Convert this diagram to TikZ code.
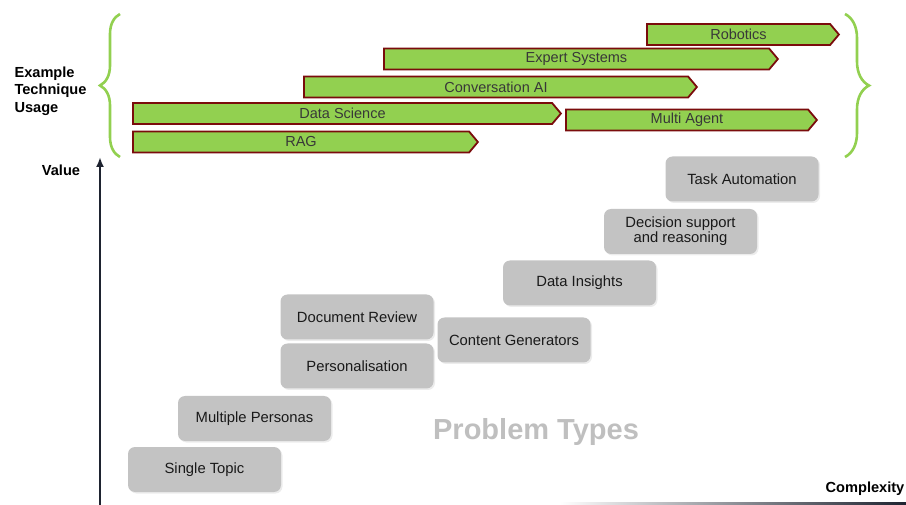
\documentclass[tikz,border=0pt]{standalone}
\usepackage{fontspec}
\setmainfont{Liberation Sans}
\usepackage{tikz}
\usetikzlibrary{shapes.symbols, arrows.meta, decorations.pathreplacing, shadows}
\definecolor{leafgreen}{HTML}{92D050}
\definecolor{maroon}{HTML}{7A0C0C}
\definecolor{boxgray}{HTML}{C3C3C3}
\definecolor{inkdark}{HTML}{1E2330}
\colorlet{labeltext}{black!78}
\colorlet{fadedtitle}{black!25}

\begin{document}
\begin{tikzpicture}[x=1pt, y=-1pt,
  stage/.style={fill=boxgray, draw=none, rounded corners=7pt, minimum width=153pt, minimum height=45pt,
    align=center, font=\fontsize{14.8}{17}\selectfont, text=black!90,
    drop shadow={shadow xshift=1.5pt, shadow yshift=-1.5pt, opacity=0.15}},
  technique/.style={shape=signal, signal to=east, signal pointer angle=100, fill=leafgreen, draw=maroon,
    line width=1.8pt, minimum height=21pt, inner sep=0pt, anchor=west, text=labeltext,
    font=\fontsize{14.5}{16}\selectfont},
  bracket/.style={draw=leafgreen, line width=2.6pt, decorate},
  axislabel/.style={font=\bfseries\fontsize{14.6}{17.5}\selectfont, align=left}
]
  \useasboundingbox (0,0) rectangle (906,505);

  % technique bars
  \node[technique, minimum width=192pt] (robot) at (646, 34.5) {Robotics};
  \node[technique, minimum width=394pt] (expert) at (383, 59) {Expert Systems};
  \node[technique, minimum width=393pt] (conv) at (303, 87) {Conversation AI};
  \node[technique, minimum width=428pt] (datasci) at (132, 113.5) {Data Science};
  \node[technique, minimum width=251pt] (multi) at (565, 120) {Multi Agent};
  \node[technique, minimum width=345pt] (rag) at (132, 142) {RAG};

  % braces round the bars
  \draw[bracket, decoration={brace, amplitude=20pt}] (120,157) -- (120,14);
  \draw[bracket, decoration={brace, amplitude=24pt}] (845,14) -- (845,157);
  \node[axislabel, anchor=west] (usage) at (11, 91) {Example\\Technique\\Usage};

  % problem types
  \node[stage] (single) at (204.5, 469.5) {Single Topic};
  \node[stage] (personas) at (254.5, 418.5) {Multiple Personas};
  \node[stage] (personal) at (357, 366) {Personalisation};
  \node[stage] (docreview) at (357, 317) {Document Review};
  \node[stage] (content) at (514, 340) {Content Generators};
  \node[stage] (insights) at (579.5, 283) {Data Insights};
  \node[stage] (decision) at (680.5, 231.5) {Decision support\\[-2pt]and reasoning};
  \node[stage] (taskauto) at (742, 179) {Task Automation};

  \node[font=\bfseries\fontsize{29}{33}\selectfont, text=fadedtitle] (ptypes) at (536, 432) {Problem Types};

  % axes
  \coordinate (origin) at (100, 505);
  \coordinate (valtop) at (100, 157);
  \draw[-{Latex[length=10pt, width=8pt]}, line width=2.2pt, inkdark] (origin) -- (valtop);
  \shade[left color=white, right color=inkdark] (560, 502.5) rectangle (906, 505);
  \node[axislabel] (value) at (61, 170) {Value};
  \node[axislabel] (complex) at (865, 489) {Complexity};
\end{tikzpicture}
\end{document}
